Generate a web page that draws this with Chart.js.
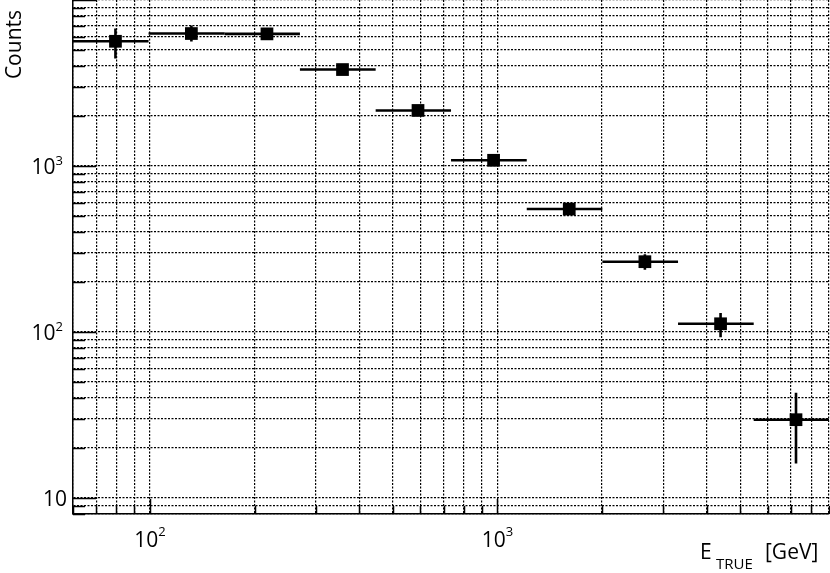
<!DOCTYPE html>
<html lang="en">
<head>
    <meta charset="UTF-8">
    <title>Counts vs E_TRUE</title>
    <script src="https://cdn.jsdelivr.net/npm/chart.js"></script>
    <style>
        body { margin: 0; background: #fff; }
        canvas { display: block; }
    </style>
</head>
<body>
    <canvas id="countsChart" width="830" height="573"></canvas>

    <script>
        // Bins in true energy (GeV)
        const binEdges = [60, 99, 164, 270, 446, 735, 1214, 2004, 3309, 5464, 9000];
        const energies = [79.5, 131.5, 217, 358, 590.5, 974.5, 1609, 2656.5, 4386.5, 7232];
        const counts = [5640, 6280, 6250, 3810, 2160, 1082, 550, 265, 112, 29.6];
        const countsHigh = [6730, 7020, 6750, 4050, 2290, 1150, 585, 294, 130, 43];
        const countsLow = [4440, 5620, 5780, 3580, 2030, 1015, 515, 237, 93, 16.1];

        // Axis ticks
        const xTicks = [60, 70, 80, 90, 100, 200, 300, 400, 500, 600, 700, 800, 900,
            1000, 2000, 3000, 4000, 5000, 6000, 7000, 8000, 9000];
        const xMajor = [100, 1000];
        const yTicks = [8, 9, 10, 20, 30, 40, 50, 60, 70, 80, 90, 100, 200, 300, 400, 500,
            600, 700, 800, 900, 1000, 2000, 3000, 4000, 5000, 6000, 7000, 8000, 9000, 10000];
        const yMajor = [10, 100, 1000, 10000];
        const tickExponents = { 10: '', 100: '2', 1000: '3' };

        const FONT = '"Open Sans", "DejaVu Sans", sans-serif';

        // error bars: bin width along x, uncertainty along y
        const errorBars = {
            id: 'errorBars',
            beforeDatasetsDraw(chart) {
                const { ctx, scales: { x, y } } = chart;
                ctx.save();
                ctx.strokeStyle = '#000';
                ctx.lineWidth = 2.6;
                energies.forEach((e, i) => {
                    const py = y.getPixelForValue(counts[i]);
                    const px = x.getPixelForValue(e);
                    ctx.beginPath();
                    ctx.moveTo(x.getPixelForValue(binEdges[i]), py);
                    ctx.lineTo(x.getPixelForValue(binEdges[i + 1]), py);
                    ctx.moveTo(px, y.getPixelForValue(countsLow[i]));
                    ctx.lineTo(px, y.getPixelForValue(countsHigh[i]));
                    ctx.stroke();
                });
                ctx.restore();
            }
        };

        // inner tick marks, tick labels and axis titles
        const axisDecor = {
            id: 'axisDecor',
            afterDraw(chart) {
                const { ctx, chartArea: area, scales: { x, y } } = chart;
                ctx.save();
                ctx.strokeStyle = '#000';
                ctx.lineWidth = 1.5;
                ctx.beginPath();
                xTicks.forEach(v => {
                    const px = Math.round(x.getPixelForValue(v)) + 0.5;
                    const len = xMajor.includes(v) ? 15 : 8;
                    ctx.moveTo(px, area.bottom);
                    ctx.lineTo(px, area.bottom - len);
                });
                yTicks.forEach(v => {
                    const py = Math.round(y.getPixelForValue(v)) + 0.5;
                    const len = yMajor.includes(v) ? 23 : 12;
                    ctx.moveTo(area.left, py);
                    ctx.lineTo(area.left + len, py);
                });
                ctx.stroke();

                ctx.fillStyle = '#000';
                ctx.textBaseline = 'alphabetic';
                const baseFont = '21px ' + FONT;
                const supFont = '13px ' + FONT;

                // y labels, right aligned
                yMajor.forEach(v => {
                    if (!(v in tickExponents)) return;
                    const py = y.getPixelForValue(v);
                    const sup = tickExponents[v];
                    ctx.font = supFont;
                    const ws = ctx.measureText(sup).width;
                    ctx.font = baseFont;
                    const wb = ctx.measureText('10').width;
                    const right = sup ? 63 : 67;
                    ctx.textAlign = 'left';
                    ctx.fillText('10', right - ws - wb, py + 8);
                    if (sup) {
                        ctx.font = supFont;
                        ctx.fillText(sup, right - ws, py - 1);
                    }
                });

                // x labels, centred
                xMajor.forEach(v => {
                    const px = x.getPixelForValue(v);
                    const sup = tickExponents[v];
                    ctx.font = supFont;
                    const ws = ctx.measureText(sup).width;
                    ctx.font = baseFont;
                    const wb = ctx.measureText('10').width;
                    const left = px - (wb + ws) / 2;
                    ctx.textAlign = 'left';
                    ctx.fillText('10', left, 547);
                    ctx.font = supFont;
                    ctx.fillText(sup, left + wb, 536);
                });

                // x title
                ctx.textAlign = 'left';
                ctx.font = '21px ' + FONT;
                ctx.fillText('E', 700, 559);
                ctx.font = '15px ' + FONT;
                ctx.fillText('TRUE', 716, 569);
                ctx.font = '21px ' + FONT;
                ctx.fillText('[GeV]', 765, 559);

                // y title
                ctx.translate(20.5, 10);
                ctx.rotate(-Math.PI / 2);
                ctx.textAlign = 'right';
                ctx.font = '21px ' + FONT;
                ctx.fillText('Counts', 0, 0);
                ctx.restore();
            }
        };

        const gridOpts = { color: '#000', lineWidth: 1.2, drawTicks: false };
        const borderOpts = { display: true, color: '#000', width: 1.5, dash: [2, 1.5] };

        new Chart(document.getElementById('countsChart'), {
            type: 'scatter',
            data: {
                datasets: [{
                    data: energies.map((e, i) => ({ x: e, y: counts[i] })),
                    pointStyle: 'rect',
                    pointRadius: 9,
                    pointHoverRadius: 9,
                    pointBorderWidth: 0,
                    backgroundColor: '#000',
                    borderColor: '#000'
                }]
            },
            options: {
                responsive: false,
                animation: false,
                devicePixelRatio: 1,
                layout: { autoPadding: false, padding: { left: 73, right: 1, top: 0, bottom: 59 } },
                plugins: { legend: { display: false }, tooltip: { enabled: false } },
                scales: {
                    x: {
                        type: 'logarithmic',
                        min: 60,
                        max: 9000,
                        grid: gridOpts,
                        border: borderOpts,
                        ticks: { display: false },
                        afterBuildTicks: s => {
                            s.ticks = xTicks.map(v => ({ value: v, major: xMajor.includes(v) }));
                        }
                    },
                    y: {
                        type: 'logarithmic',
                        min: 8,
                        max: 10000,
                        grid: gridOpts,
                        border: borderOpts,
                        ticks: { display: false },
                        afterBuildTicks: s => {
                            s.ticks = yTicks.map(v => ({ value: v, major: yMajor.includes(v) }));
                        }
                    }
                }
            },
            plugins: [errorBars, axisDecor]
        });
    </script>
</body>
</html>
